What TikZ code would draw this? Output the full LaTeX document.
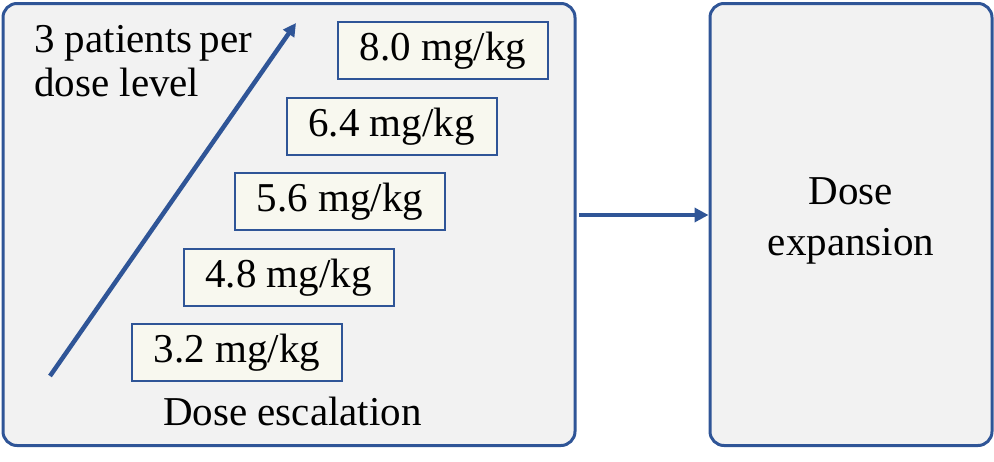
\documentclass[tikz,border=0pt]{standalone}
\usepackage{fontspec}
\setmainfont{Liberation Serif}
\usetikzlibrary{arrows.meta}
\definecolor{trialblue}{RGB}{47,85,151}
\definecolor{panelgray}{RGB}{242,242,242}
\definecolor{dosecream}{RGB}{248,248,239}
\begin{document}
\begin{tikzpicture}[x=1pt, y=-1pt, font=\fontsize{41}{44}\selectfont]
\tikzstyle{stage}=[draw=trialblue, fill=panelgray, line width=3pt, rounded corners=14pt, inner sep=0pt]
\tikzstyle{dosebox}=[draw=trialblue, fill=dosecream, line width=2pt, minimum width=210pt, minimum height=57pt, inner sep=0pt]
\tikzstyle{flow}=[draw=trialblue, line width=4.5pt, -{Triangle[length=14pt, width=14pt]}]
  \useasboundingbox (0,0) rectangle (994,461);
  \node[stage, minimum width=572pt, minimum height=442pt] (esc) at (289,224.5) {};
  \node[stage, minimum width=282pt, minimum height=442pt, align=center, text depth=15pt,
        font=\fontsize{41}{51}\selectfont] (exp) at (851,224.5) {Dose\\expansion};
  \foreach \place/\name/\dose in {{(237,352.5)/d1/3.2},
                                  {(288.5,277.5)/d2/4.8},
                                  {(340,201.5)/d3/5.6},
                                  {(391.5,126.5)/d4/6.4},
                                  {(443,50.5)/d5/8.0}}
    \node[dosebox] (\name) at \place {\dose{} mg/kg};
  \node[anchor=base, inner sep=0pt] (esclabel) at (292.5,425) {Dose escalation};
  \node[anchor=base west, inner sep=0pt, align=left] (cohort) at (34,96) {3 patients\hspace{-3pt} per\\dose level};
  \coordinate (low) at (50,376);
  \coordinate (high) at (296,23);
  \draw[flow, -{Triangle[length=13pt, width=13pt]}] (low) -- (high);
  \draw[flow, shorten <=2.5pt] ([yshift=9.5pt]esc.east) -- ([yshift=9.5pt]exp.west);
\end{tikzpicture}
\end{document}
